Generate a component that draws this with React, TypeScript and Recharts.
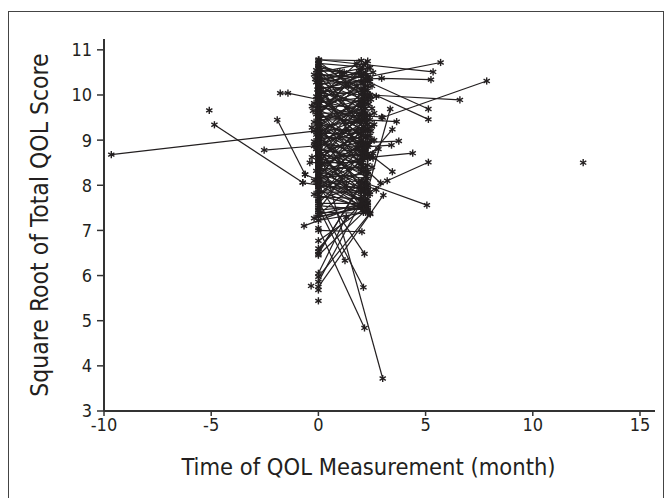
import React from "react";
import { ScatterChart, Scatter, XAxis, YAxis, Label } from "recharts";

const INK = "#231f20";
const FONT = "'Liberation Sans Narrow', 'DejaVu Sans Condensed', 'Liberation Sans', sans-serif";

const xTicks = [-10, -5, 0, 5, 10, 15];
const yTicks = [3, 4, 5, 6, 7, 8, 9, 10, 11];

// each track = [month, score, month, score, ...] for one patient
const farTracks: number[][] = [
  [-9.66, 8.68, -0.2, 9.2],
  [-4.85, 9.34, -0.73, 8.06],
  [-1.78, 10.04, -1.42, 10.04, 0, 9.9],
  [-1.92, 9.45, -0.62, 8.24],
  [-2.53, 8.78, -0.2, 8.87],
  [0.03, 10.78, 5.35, 10.51],
  [2.3, 10.4, 5.7, 10.72],
  [2.4, 10.36, 2.95, 10.37, 5.25, 10.34],
  [3.0, 9.5, 7.85, 10.31],
  [2.4, 10.0, 6.6, 9.89],
  [2.3, 10.3, 5.13, 9.69],
  [2.2, 10.1, 5.13, 9.46],
  [2.4, 8.62, 4.4, 8.71],
  [2.4, 7.85, 3.21, 8.1, 5.13, 8.51],
  [2.2, 8.05, 5.06, 7.56],
];

const clusterTracks: number[][] = [
  [0, 10.78, 2.0, 10.76], [0, 10.7, 2.05, 10.62], [0, 10.65, 1.0, 10.52],
  [0, 10.6, 2.1, 10.45], [-0.1, 10.55, 1.2, 10.5], [0, 10.5, 2.2, 10.7],
  [0, 10.47, 2.0, 10.3], [-0.2, 10.45, 2.3, 10.38], [0, 10.42, 2.1, 10.05],
  [0, 10.4, 1.9, 10.58], [0, 10.37, 2.3, 10.2], [0, 10.35, 2.2, 10.5],
  [0, 10.3, 2.1, 9.9], [-0.1, 10.28, 2.0, 10.42], [0, 10.25, 2.4, 10.3],
  [0, 10.22, 2.0, 9.7], [0, 10.2, 2.3, 10.6], [0, 10.17, 2.1, 10.15],
  [0, 10.15, 1.9, 9.6], [-0.05, 10.12, 2.2, 10.35], [0, 10.1, 2.0, 10.0],
  [0, 10.07, 2.35, 9.8], [0, 10.05, 2.1, 10.25], [0, 10.02, 2.2, 9.5],
  [0, 10.0, 2.0, 10.55], [-0.1, 9.97, 2.3, 10.1], [0, 9.95, 2.1, 9.3],
  [0, 9.92, 2.0, 9.85], [0, 9.9, 2.25, 10.4], [0, 9.87, 2.1, 9.65],
  [0, 9.85, 2.0, 9.1], [-0.2, 9.82, 2.3, 9.95], [0, 9.8, 2.2, 10.2],
  [0, 9.77, 2.0, 9.45], [0, 9.75, 2.1, 9.75], [-0.3, 9.75, 2.4, 9.55],
  [0, 9.7, 2.0, 10.1], [0, 9.67, 2.3, 9.2], [0, 9.65, 2.15, 9.9],
  [0, 9.62, 2.0, 8.9], [0, 9.6, 2.2, 9.6], [-0.1, 9.57, 2.1, 10.3],
  [0, 9.55, 2.3, 9.35], [0, 9.52, 2.0, 9.55], [0, 9.5, 2.2, 8.8],
  [0, 9.47, 2.1, 9.8], [0, 9.45, 2.4, 9.45], [0, 9.42, 2.0, 9.0],
  [-0.2, 9.4, 2.2, 9.7], [0, 9.37, 2.1, 8.6], [0, 9.35, 2.3, 9.1],
  [0, 9.32, 2.0, 9.4], [0, 9.3, 2.2, 10.0], [-0.3, 9.28, 2.1, 8.95],
  [0, 9.25, 2.0, 8.5], [0, 9.22, 2.3, 9.25], [0, 9.2, 2.1, 9.6],
  [0, 9.17, 2.2, 8.7], [0, 9.15, 2.0, 9.15], [-0.1, 9.12, 2.35, 8.9],
  [0, 9.1, 2.1, 9.5], [0, 9.07, 2.0, 8.3], [0, 9.05, 2.2, 9.05],
  [0, 9.02, 2.3, 8.6], [0, 9.0, 2.1, 9.3], [-0.2, 8.97, 2.0, 8.75],
  [0, 8.95, 2.2, 8.4], [0, 8.92, 2.1, 9.2], [0, 8.9, 2.3, 8.85],
  [0, 8.87, 2.0, 8.1], [0, 8.85, 2.2, 9.4], [0, 8.82, 2.1, 8.55],
  [-0.1, 8.8, 2.4, 8.62], [0, 8.77, 2.0, 8.95], [0, 8.75, 2.2, 8.2],
  [0, 8.72, 2.1, 8.8], [0, 8.7, 2.3, 8.45], [0, 8.67, 2.0, 7.9],
  [0, 8.65, 2.2, 8.65], [-0.3, 8.62, 2.1, 9.1], [0, 8.6, 2.0, 8.35],
  [0, 8.57, 2.3, 8.0], [0, 8.55, 2.1, 8.7], [0, 8.52, 2.2, 7.8],
  [-0.4, 8.5, 2.0, 8.5], [0, 8.47, 2.3, 8.3], [0, 8.45, 2.1, 7.6],
  [0, 8.42, 2.2, 8.9], [0, 8.4, 2.0, 8.05], [0, 8.37, 2.3, 7.7],
  [0, 8.35, 2.1, 8.4], [-0.1, 8.32, 2.2, 7.55], [0, 8.3, 2.0, 8.6],
  [0, 8.27, 2.3, 8.15], [0, 8.25, 2.1, 7.95], [-0.62, 8.24, 2.2, 7.65],
  [0, 8.2, 2.0, 7.75], [0, 8.17, 2.3, 8.25], [0, 8.15, 2.1, 7.5],
  [0, 8.12, 2.2, 7.9], [0, 8.1, 2.0, 8.45], [0, 8.07, 2.3, 7.6],
  [-0.73, 8.06, 2.1, 7.85], [0, 8.05, 2.2, 8.1], [0, 8.0, 2.0, 7.55],
  [0, 7.97, 2.3, 7.95], [0, 7.95, 2.1, 8.3], [0, 7.9, 2.2, 7.45],
  [0, 7.85, 2.0, 7.85], [-0.2, 7.8, 2.3, 7.5], [0, 7.75, 2.1, 7.7],
  [0, 7.7, 2.2, 8.0], [0, 7.65, 2.1, 5.74], [0, 7.6, 2.0, 7.6],
  [0, 7.55, 2.3, 7.45], [0, 7.5, 1.24, 6.33], [0, 7.45, 2.2, 7.55],
  [0, 7.4, 2.4, 7.38], [0, 7.35, 2.1, 7.6], [0, 7.3, 2.3, 7.55],
  [-0.2, 7.27, 2.0, 7.5], [0, 7.22, 2.2, 7.4], [-0.67, 7.1, 2.3, 7.62],
  [0, 7.05, 2.15, 4.84], [0, 7.0, 2.03, 6.97], [0, 6.77, 2.2, 7.5],
  [0, 6.6, 2.4, 7.8], [0, 6.53, 2.0, 8.0], [0, 6.48, 2.3, 8.3],
  [0, 6.45, 2.1, 7.4], [0, 8.0, 2.15, 6.48], [0, 8.9, 3.0, 3.72],
  [0, 5.97, 2.4, 7.38], [0, 5.75, 3.03, 7.78], [0, 5.86, 2.3, 7.9],
  [0, 6.05, 1.3, 7.3],
  [0.05, 10.6, 2.5, 9.7], [-0.15, 10.35, 2.45, 9.2], [0, 10.1, 2.55, 10.5],
  [0.1, 9.9, 2.6, 9.0], [-0.25, 9.65, 2.5, 10.2], [0, 9.4, 2.55, 8.6],
  [0.05, 9.15, 2.45, 9.9], [-0.15, 8.9, 2.6, 9.6], [0, 8.6, 2.5, 9.3],
  [0.1, 8.4, 2.45, 9.0], [-0.2, 8.1, 2.55, 8.7], [0, 7.8, 2.5, 8.4],
  [0, 10.45, 1.8, 9.4], [0, 10.2, 1.85, 8.9], [0, 9.95, 1.8, 10.7],
  [0, 9.6, 1.9, 10.5], [0, 9.3, 1.8, 10.2], [0, 9.0, 1.85, 9.8],
  [0, 8.7, 1.9, 9.5], [0, 8.4, 1.8, 9.2], [0, 8.1, 1.85, 8.8],
  [0, 7.8, 1.9, 8.5], [0, 10.75, 2.3, 9.9], [0, 10.68, 2.4, 10.0],
  [0, 10.58, 2.2, 9.2], [0, 10.3, 2.0, 8.7], [0, 10.0, 2.3, 8.9],
  [0, 9.7, 2.2, 8.3], [0, 9.4, 2.0, 7.9], [0, 9.1, 2.3, 7.8],
  [0, 8.8, 2.1, 7.45], [0, 8.5, 2.2, 9.7], [0, 8.2, 2.3, 9.35],
  [0, 7.9, 2.0, 9.0], [0, 7.6, 2.1, 8.6], [0, 7.35, 2.2, 8.2],
  [0, 10.5, 1.4, 10.2], [0, 10.3, 1.1, 10.45], [0, 9.2, 1.0, 8.5],
  [0.05, 8.8, 1.3, 8.0], [0, 9.85, 2.4, 10.6], [0, 9.55, 2.3, 10.75],
  [0, 9.05, 2.1, 10.1], [0, 8.75, 2.2, 10.0], [0, 8.45, 2.0, 9.8],
  [0, 8.15, 2.3, 9.55], [0, 7.7, 2.4, 9.1], [0, 7.45, 2.1, 8.8],
];

const laterTracks: number[][] = [
  [2.3, 7.9, 3.35, 9.69], [2.3, 8.6, 3.45, 9.24], [2.2, 9.45, 3.65, 9.41],
  [2.3, 8.95, 3.75, 8.98], [2.2, 8.85, 3.41, 8.89], [2.2, 8.76, 3.45, 8.3],
  [2.2, 9.9, 2.7, 9.97], [2.1, 9.55, 2.95, 9.51], [2.0, 9.2, 2.6, 9.35],
  [2.3, 8.7, 2.8, 8.8], [2.1, 8.4, 2.9, 8.05], [2.2, 8.0, 2.7, 7.9],
  [2.0, 7.7, 2.42, 7.36],
];

const lonePoints: number[][] = [
  [-5.09, 9.66], [12.35, 8.5], [0, 5.44], [0, 5.68], [-0.34, 5.77],
];

const toPoints = (t: number[]) => {
  const pts: { month: number; score: number }[] = [];
  for (let i = 0; i < t.length; i += 2) pts.push({ month: t[i], score: t[i + 1] });
  return pts;
};

const Asterisk = (props: any) => {
  const { cx, cy } = props;
  if (cx == null || cy == null) return null;
  const r = 3.6;
  const a = r * 0.866;
  const b = r * 0.5;
  return (
    <g stroke={INK} strokeWidth={1.4}>
      <line x1={cx} y1={cy - r} x2={cx} y2={cy + r} />
      <line x1={cx - a} y1={cy - b} x2={cx + a} y2={cy + b} />
      <line x1={cx - a} y1={cy + b} x2={cx + a} y2={cy - b} />
    </g>
  );
};

export default function App() {
  const tracks = [...farTracks, ...clusterTracks, ...laterTracks];
  return (
    <div style={{ position: "relative", width: 666, height: 498, overflow: "hidden" }}>
      <style>{`body{margin:0;overflow:hidden;background:#fff}`}</style>
      <div
        style={{
          position: "absolute",
          left: 8,
          top: 11,
          width: 654,
          height: 600,
          border: "1px solid #444",
        }}
      />
      <div style={{ position: "absolute", left: 0, top: 0 }}>
        <ScatterChart
          width={666}
          height={498}
          margin={{ top: 39, right: 11, left: 8, bottom: 27 }}
        >
          <XAxis
            type="number"
            dataKey="month"
            domain={[-10, 15.7]}
            ticks={xTicks}
            allowDataOverflow
            height={60}
            tickSize={5}
            tickMargin={2}
            tick={{ fontSize: 18, fill: INK, fontFamily: FONT }}
            axisLine={{ stroke: "#333", strokeWidth: 2 }}
            tickLine={{ stroke: "#333", strokeWidth: 1.5 }}
          >
            <Label
              content={(p: any) => {
                const vb = p.viewBox;
                return (
                  <text
                    x={vb.x + vb.width / 2 - 11}
                    y={vb.y + 64}
                    textAnchor="middle"
                    fontSize={23.5}
                    fontFamily={FONT}
                    fill={INK}
                  >
                    Time of QOL Measurement (month)
                  </text>
                );
              }}
            />
          </XAxis>
          <YAxis
            type="number"
            dataKey="score"
            domain={[3, 11.24]}
            ticks={yTicks}
            allowDataOverflow
            width={96}
            tickSize={7}
            tickMargin={5}
            tick={{ fontSize: 18, fill: INK, fontFamily: FONT }}
            axisLine={{ stroke: "#333", strokeWidth: 2 }}
            tickLine={{ stroke: "#333", strokeWidth: 1.5 }}
          >
            <Label
              content={(p: any) => {
                const vb = p.viewBox;
                const x = vb.x + 33;
                const y = vb.y + vb.height / 2;
                return (
                  <text
                    x={x}
                    y={y}
                    transform={`rotate(-90, ${x}, ${y})`}
                    textAnchor="middle"
                    dominantBaseline="middle"
                    fontSize={24.5}
                    fontFamily={FONT}
                    fill={INK}
                  >
                    Square Root of Total QOL Score
                  </text>
                );
              }}
            />
          </YAxis>
          {tracks.map((t, i) => (
            <Scatter
              key={`t${i}`}
              data={toPoints(t)}
              line={{ stroke: INK, strokeWidth: 1.2 }}
              lineType="joint"
              shape={Asterisk}
              isAnimationActive={false}
            />
          ))}
          {lonePoints.map((p, i) => (
            <Scatter
              key={`p${i}`}
              data={toPoints(p)}
              shape={Asterisk}
              isAnimationActive={false}
            />
          ))}
        </ScatterChart>
      </div>
    </div>
  );
}
